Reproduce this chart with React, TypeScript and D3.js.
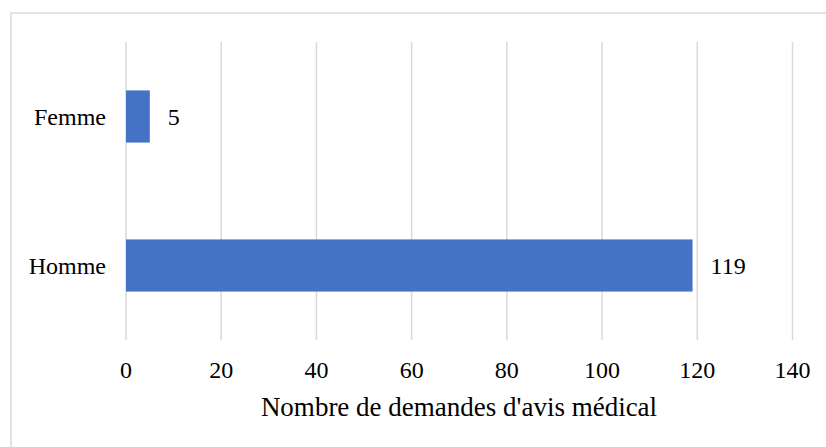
import React from "react";
import * as d3 from "d3";

const categories = ["Femme", "Homme"];
const values = [5, 119];
const xTicks = [0, 20, 40, 60, 80, 100, 120, 140];
const axisTitle = "Nombre de demandes d'avis médical";

const W = 826;
const H = 447;
const FONT = "'Liberation Serif', 'Times New Roman', serif";

export default function App() {
  const x = d3.scaleLinear().domain([0, 140]).range([126, 792.5]);
  const y = d3.scaleBand().domain(categories).range([42, 340]).paddingInner(0.65).paddingOuter(0.325);
  const gridTop = 42;
  const gridBottom = 340;
  return (
    <svg width={W} height={H} style={{ position: "absolute", left: 0, top: 0, background: "#fff" }}>
      <rect x={11} y={13} width={W} height={H} fill="#fff" stroke="#d9d9d9" strokeWidth={1.5} />
      {xTicks.map((t) => (
        <line key={t} x1={x(t)} x2={x(t)} y1={gridTop} y2={gridBottom} stroke="#d9d9d9" strokeWidth={1.5} />
      ))}
      {categories.map((c, i) => (
        <g key={c}>
          <rect x={x(0)} y={y(c)!} width={x(values[i]) - x(0)} height={y.bandwidth()} fill="#4472C4" />
          <text x={x(values[i]) + 18} y={y(c)! + y.bandwidth() / 2} dy="0.35em" fontFamily={FONT} fontSize={24} fill="#000">
            {values[i]}
          </text>
          <text x={106} y={y(c)! + y.bandwidth() / 2} dy="0.35em" textAnchor="end" fontFamily={FONT} fontSize={24} fill="#000">
            {c}
          </text>
        </g>
      ))}
      {xTicks.map((t) => (
        <text key={t} x={x(t)} y={378} textAnchor="middle" fontFamily={FONT} fontSize={24} fill="#000">
          {t}
        </text>
      ))}
      <text x={459} y={416} textAnchor="middle" fontFamily={FONT} fontSize={27} fill="#000">
        {axisTitle}
      </text>
    </svg>
  );
}
